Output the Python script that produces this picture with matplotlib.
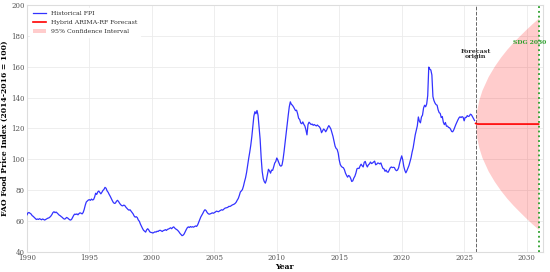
import numpy as np
import matplotlib
matplotlib.use("Agg")
import matplotlib.pyplot as plt

# Monthly FAO Food Price Index, Jan 1990 - Nov 2025
fpi_by_year = {
    1990: [64.0, 65.3, 65.5, 65.0, 64.5, 63.5, 63.0, 62.3, 61.5, 61.0, 61.3, 61.0],
    1991: [61.5, 61.2, 60.8, 61.3, 61.0, 60.6, 61.0, 61.4, 61.8, 62.0, 62.5, 63.2],
    1992: [64.2, 65.5, 66.0, 65.4, 65.8, 65.2, 64.5, 63.8, 63.4, 62.8, 62.3, 61.6],
    1993: [61.2, 61.5, 62.3, 62.0, 61.4, 60.8, 60.6, 61.2, 62.5, 63.8, 64.5, 64.2],
    1994: [64.6, 64.0, 64.8, 65.3, 65.0, 64.6, 65.5, 67.5, 70.2, 72.3, 73.0, 73.6],
    1995: [73.8, 73.4, 74.2, 73.6, 73.9, 75.5, 78.0, 77.2, 78.8, 79.4, 78.5, 77.6],
    1996: [78.6, 79.8, 80.5, 81.8, 81.2, 79.5, 78.6, 77.2, 76.0, 74.6, 73.2, 72.0],
    1997: [71.4, 71.6, 72.8, 73.4, 72.6, 71.5, 70.6, 70.0, 69.8, 70.3, 70.0, 69.0],
    1998: [68.2, 67.5, 67.0, 67.3, 66.4, 65.5, 64.6, 63.2, 62.5, 62.8, 62.2, 60.6],
    1999: [59.8, 58.0, 56.6, 55.2, 54.0, 53.4, 52.8, 54.3, 55.0, 54.2, 53.0, 52.6],
    2000: [52.5, 52.2, 52.6, 53.0, 52.8, 53.4, 53.2, 53.8, 54.0, 53.6, 53.2, 53.8],
    2001: [54.0, 54.4, 53.9, 54.6, 54.8, 55.2, 55.6, 55.0, 55.8, 56.2, 55.4, 54.8],
    2002: [54.4, 53.8, 53.0, 52.0, 51.2, 50.5, 50.8, 51.6, 53.0, 54.4, 55.6, 56.2],
    2003: [55.8, 56.4, 56.0, 56.3, 56.0, 56.4, 56.8, 56.5, 57.5, 59.2, 61.0, 62.6],
    2004: [63.8, 65.0, 66.4, 67.3, 66.8, 65.6, 64.8, 64.4, 64.6, 64.9, 65.3, 65.0],
    2005: [65.4, 65.8, 66.4, 66.2, 66.0, 66.5, 66.9, 67.3, 67.0, 67.6, 68.2, 68.5],
    2006: [68.6, 68.9, 69.5, 69.4, 69.8, 70.3, 70.6, 70.9, 71.4, 72.2, 73.5, 74.6],
    2007: [76.5, 78.8, 79.5, 80.4, 82.6, 85.5, 88.0, 91.5, 96.0, 100.5, 104.5, 109.0],
    2008: [114.5, 121.5, 128.0, 130.8, 129.5, 131.6, 128.5, 121.0, 113.0, 101.0, 92.0, 87.5],
    2009: [85.5, 84.5, 86.5, 90.0, 93.5, 92.5, 91.0, 93.0, 92.8, 95.0, 97.5, 98.5],
    2010: [100.8, 99.5, 97.8, 96.0, 95.5, 96.2, 99.8, 105.0, 111.0, 117.5, 123.0, 128.5],
    2011: [134.0, 137.2, 135.6, 135.0, 134.0, 132.8, 131.5, 131.8, 129.5, 126.5, 125.8, 123.5],
    2012: [123.0, 124.2, 122.6, 121.5, 119.0, 115.8, 122.5, 124.0, 123.2, 122.5, 122.8, 122.0],
    2013: [122.5, 122.0, 121.6, 122.2, 121.5, 121.0, 119.8, 117.2, 118.4, 119.6, 119.0, 117.8],
    2014: [119.0, 120.6, 121.8, 120.8, 119.5, 117.2, 114.8, 111.6, 108.5, 107.0, 106.4, 104.0],
    2015: [99.5, 96.6, 95.4, 94.8, 94.5, 93.2, 91.0, 89.6, 88.4, 89.5, 89.0, 87.6],
    2016: [85.6, 86.0, 87.8, 89.0, 91.0, 93.8, 94.2, 94.0, 95.6, 96.8, 95.8, 95.0],
    2017: [98.0, 98.6, 96.4, 95.0, 96.4, 97.0, 98.2, 97.2, 97.6, 98.2, 98.8, 96.4],
    2018: [96.8, 97.6, 97.4, 97.0, 97.6, 95.6, 94.0, 93.8, 92.2, 93.0, 91.8, 91.6],
    2019: [93.0, 94.4, 95.0, 94.6, 94.8, 94.6, 93.2, 92.6, 93.0, 94.4, 97.4, 100.0],
    2020: [102.2, 99.6, 95.4, 92.8, 91.2, 92.6, 94.4, 96.0, 98.4, 101.0, 104.6, 107.4],
    2021: [111.8, 115.8, 118.8, 121.6, 127.4, 124.6, 123.6, 127.4, 128.6, 133.2, 135.0, 134.0],
    2022: [135.8, 141.2, 159.7, 158.4, 157.8, 154.6, 140.6, 138.0, 136.4, 135.4, 135.0, 132.0],
    2023: [130.2, 129.7, 127.0, 127.7, 124.0, 122.4, 123.8, 121.4, 121.5, 120.6, 120.4, 119.4],
    2024: [118.0, 117.8, 119.0, 120.8, 122.5, 124.0, 125.5, 126.8, 127.5, 127.0, 127.6, 127.2],
    2025: [124.9, 127.1, 127.1, 128.3, 127.7, 128.0, 129.2, 128.8, 127.6, 126.4, 125.1],
}

# Forecast horizon points (decimal years) with point forecast and 95% bounds
fc_years = [2025.92, 2026.0, 2026.17, 2026.42, 2026.92, 2027.42, 2027.92,
            2028.42, 2028.92, 2029.42, 2029.92, 2030.42, 2030.96]
fc_values = [123.2, 122.9, 122.8, 122.8, 122.8, 122.8, 122.8,
             122.8, 122.8, 122.8, 122.8, 122.8, 122.8]
ci_upper = [123.2, 131.6, 138.3, 144.7, 153.6, 160.4, 166.2,
            171.3, 175.8, 179.9, 183.9, 187.7, 191.5]
ci_lower = [123.2, 114.4, 107.7, 101.3, 92.4, 85.6, 79.8,
            74.7, 70.2, 66.1, 62.1, 58.3, 54.5]

forecast_origin = 2025.92
sdg_year = 2030.96
x_ticks = [1990, 1995, 2000, 2005, 2010, 2015, 2020, 2025, 2030]
y_ticks = [40, 60, 80, 100, 120, 140, 160, 180, 200]

hist_years = []
hist_values = []
for yr, vals in fpi_by_year.items():
    for m, v in enumerate(vals):
        hist_years.append(yr + m / 12)
        hist_values.append(v)

plt.rcParams["font.family"] = "DejaVu Serif"

fig, ax = plt.subplots(figsize=(5.5, 2.72), dpi=100)
fig.subplots_adjust(left=0.049, right=0.987, top=0.982, bottom=0.074)

ax.plot(hist_years, hist_values, color="#0000ff", lw=0.9, alpha=0.8,
        label="Historical FPI", zorder=3)
ax.plot(fc_years, fc_values, color="red", lw=1.2, label="Hybrid ARIMA-RF Forecast",
        zorder=4)
ax.fill_between(fc_years, ci_lower, ci_upper, color="red", alpha=0.2, lw=0,
                label="95% Confidence Interval", zorder=2)

ax.axvline(forecast_origin, color="#666666", ls="--", lw=0.7, zorder=1)
ax.axvline(sdg_year, color="#2ca02c", ls=":", lw=1.3, zorder=5)

ax.text(forecast_origin, 168, "Forecast\norigin", ha="center", va="center",
        fontsize=4.6, fontweight="bold", color="#333333", linespacing=1.0)
ax.text(2030.25, 175.8, "SDG 2030", ha="center", va="center",
        fontsize=4.3, fontweight="bold", color="#2ca02c")

ax.set_xlim(1990, 2031.3)
ax.set_ylim(40, 200)
ax.set_xticks(x_ticks)
ax.set_yticks(y_ticks)
ax.grid(True, color="#ebebeb", lw=0.6)
ax.set_axisbelow(True)
for s in ax.spines.values():
    s.set_color("#dddddd")
    s.set_linewidth(0.8)
ax.tick_params(axis="both", labelsize=5, colors="#555555", length=0, pad=1.5)

ax.set_xlabel("Year", fontsize=5.5, fontweight="bold", labelpad=1)
ax.set_ylabel("FAO Food Price Index (2014-2016 = 100)", fontsize=5.5,
              fontweight="bold", labelpad=2)

leg = ax.legend(loc="upper left", fontsize=4.5, frameon=True, facecolor="white",
                edgecolor="white", framealpha=1, handlelength=2.2,
                borderaxespad=0.5, labelspacing=0.6)
for t in leg.get_texts():
    t.set_color("#333333")

fig.savefig("out.png", dpi=100)
